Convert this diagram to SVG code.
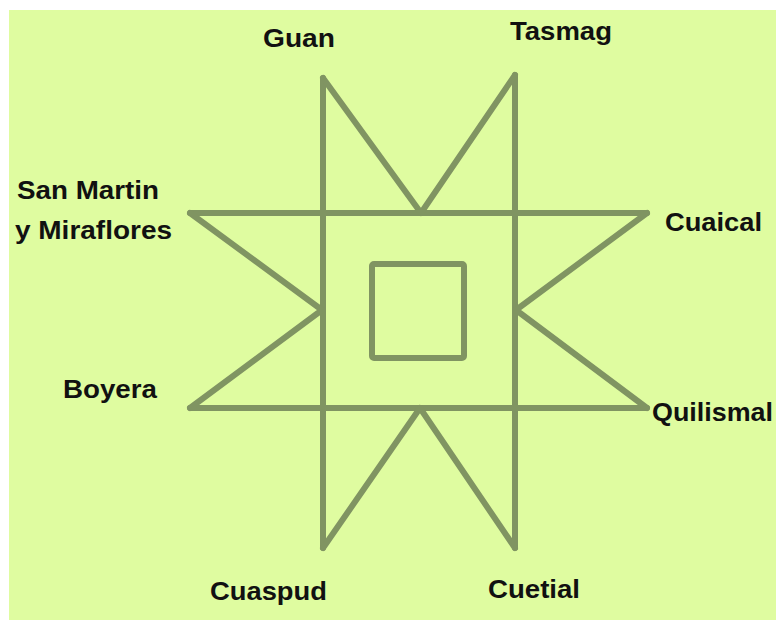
<svg xmlns="http://www.w3.org/2000/svg" width="776" height="620" viewBox="0 0 776 620">
<style>
.ln{fill:none;stroke:#809462;stroke-width:6;stroke-linecap:round;stroke-linejoin:round}
.lb{font-family:"Liberation Sans",Arial,sans-serif;font-weight:bold;font-size:26px;fill:#111}
</style>
<rect x="0" y="0" width="776" height="620" fill="#ffffff"/>
<rect x="9" y="10" width="767" height="610" fill="#dffca0"/>
<g id="connectors">
<line class="ln" x1="323" y1="78" x2="323" y2="548"/>
<line class="ln" x1="515" y1="75" x2="515" y2="548"/>
<line class="ln" x1="190" y1="213" x2="647" y2="213"/>
<line class="ln" x1="190" y1="408" x2="647" y2="408"/>
<polyline class="ln" points="323,78 421,213 515,75"/>
<polyline class="ln" points="190,213 322,310 190,408"/>
<polyline class="ln" points="647,213 516,310 647,408"/>
<polyline class="ln" points="323,548 420,408 515,548"/>
</g>
<g id="center"><rect class="ln" x="372" y="264" width="92" height="94" rx="2"/></g>
<g id="guan"><text class="lb" x="263" y="47" textLength="72" lengthAdjust="spacingAndGlyphs">Guan</text></g>
<g id="tasmag"><text class="lb" x="510" y="40" textLength="102" lengthAdjust="spacingAndGlyphs">Tasmag</text></g>
<g id="sanmartin"><text class="lb" x="17" y="199" textLength="142" lengthAdjust="spacingAndGlyphs">San Martin</text><text class="lb" x="15" y="239" textLength="157" lengthAdjust="spacingAndGlyphs">y Miraflores</text></g>
<g id="cuaical"><text class="lb" x="665" y="231" textLength="97" lengthAdjust="spacingAndGlyphs">Cuaical</text></g>
<g id="boyera"><text class="lb" x="63" y="398" textLength="94" lengthAdjust="spacingAndGlyphs">Boyera</text></g>
<g id="quilismal"><text class="lb" x="652" y="421" textLength="121" lengthAdjust="spacingAndGlyphs">Quilismal</text></g>
<g id="cuaspud"><text class="lb" x="210" y="600" textLength="117" lengthAdjust="spacingAndGlyphs">Cuaspud</text></g>
<g id="cuetial"><text class="lb" x="488" y="598" textLength="92" lengthAdjust="spacingAndGlyphs">Cuetial</text></g>
</svg>
